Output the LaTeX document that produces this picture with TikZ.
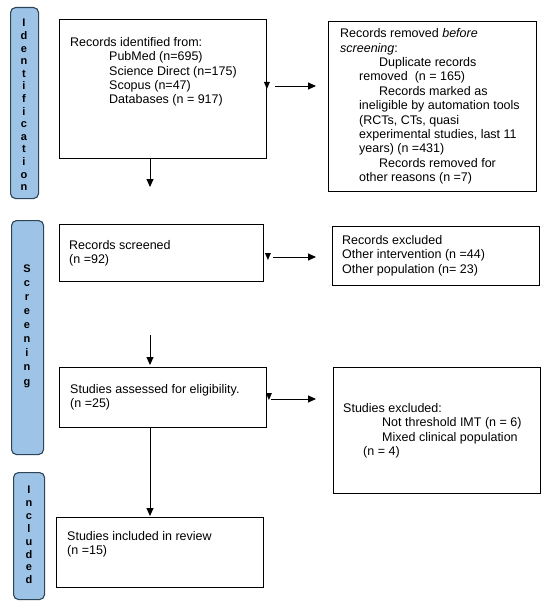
\documentclass[tikz,border=0pt]{standalone}
\usepackage{fontspec}
\setmainfont{Liberation Sans}
\usetikzlibrary{arrows.meta,calc}
\definecolor{sidefill}{HTML}{9DC3E6}
\definecolor{sideedge}{HTML}{2E4457}
\newcommand\downtri[1]{\fill (#1) +(-3,-4) -- +(3,-4) -- +(0,3) -- cycle;}
\begin{document}
\begin{tikzpicture}[x=1pt,y=-1pt,
  box/.style={draw=black,line width=0.9pt,fill=white,anchor=north west,inner sep=0pt},
  side/.style={draw=sideedge,line width=1.1pt,fill=sidefill,rounded corners=5pt,anchor=north west,inner sep=0pt},
  txt/.style={anchor=north west,align=left,inner sep=0pt,font=\fontsize{12.5}{14.4}\selectfont},
  lett/.style={align=center,inner sep=0pt,font=\bfseries\fontsize{11}{#1}\selectfont},
  arr/.style={line width=0.9pt,-{Triangle[length=8pt,width=7pt]}}]
\useasboundingbox (0,0) rectangle (550,607);
\fill[white] (0,0) rectangle (550,607);
% side labels
\node[side,minimum width=28pt,minimum height=191pt] (s1) at (10,7) {};
\node[lett=12.6pt] (l1) at (24,105) {I\\d\\e\\n\\t\\i\\f\\i\\c\\a\\t\\i\\o\\n};
\node[side,minimum width=32pt,minimum height=234pt] (s2) at (11,220) {};
\node[lett=14.1pt] (l2) at (27,326) {S\\c\\r\\e\\e\\n\\i\\n\\g};
\node[side,minimum width=31pt,minimum height=127pt] (s3) at (13,472) {};
\node[lett=12.9pt] (l3) at (29,535) {I\\n\\c\\l\\u\\d\\e\\d};
% boxes
\node[box,minimum width=207pt,minimum height=139pt] (b1) at (59,19) {};
\node[txt] (t1) at (70,37) {Records identified from:\\
\hspace*{39pt}PubMed (n=695)\\
\hspace*{39pt}Science Direct (n=175)\\
\hspace*{39pt}Scopus (n=47)\\
\hspace*{39pt}Databases (n = 917)};
\node[box,minimum width=208pt,minimum height=170pt] (b2) at (328,21) {};
\node[txt] (t2) at (340,28.5) {Records removed \textit{before}\\
\textit{screening}:\\
\hspace*{39pt}Duplicate records\\
\hspace*{19pt}removed\ \ (n = 165)\\
\hspace*{39pt}Records marked as\\
\hspace*{19pt}ineligible by automation tools\\
\hspace*{19pt}(RCTs, CTs, quasi\\
\hspace*{19pt}experimental studies, last 11\\
\hspace*{19pt}years) (n =431)\\
\hspace*{39pt}Records removed for\\
\hspace*{19pt}other reasons (n =7)};
\node[box,minimum width=204pt,minimum height=57pt] (b3) at (59,224) {};
\node[txt] (t3) at (69,240) {Records screened\\(n =92)};
\node[box,minimum width=207pt,minimum height=59pt] (b4) at (332,226) {};
\node[txt] (t4) at (342,235) {Records excluded\\Other intervention (n =44)\\Other population (n= 23)};
\node[box,minimum width=207pt,minimum height=60pt] (b5) at (59,367) {};
\node[txt] (t5) at (70,384) {Studies assessed for eligibility.\\(n =25)};
\node[box,minimum width=207pt,minimum height=126pt] (b6) at (333,367) {};
\node[txt] (t6) at (343,403) {Studies excluded:\\
\hspace*{39pt}Not threshold IMT (n = 6)\\
\hspace*{39pt}Mixed clinical population\\
\hspace*{20pt}(n = 4)};
\node[box,minimum width=207pt,minimum height=70pt] (b7) at (56,517) {};
\node[txt] (t7) at (67,531) {Studies included in review\\(n =15)};
% down arrows
\coordinate (d1) at (150,187);
\draw[arr] (d1 |- b1.south) -- (d1);
\coordinate (d2s) at (150,335);
\coordinate (d2e) at (150,365);
\draw[arr] (d2s) -- (d2e);
\coordinate (d3) at (150,516);
\draw[arr] (d3 |- b5.south) -- (d3);
% right arrows
\coordinate (r1s) at (275,86);
\coordinate (r1e) at (316,86);
\downtri{b1.east |- r1s}
\draw[arr] (r1s) -- (r1e);
\coordinate (r2s) at (273,257);
\coordinate (r2e) at (316,257);
\downtri{$(b3.east |- r2s)+(4,0)$}
\draw[arr] (r2s) -- (r2e);
\coordinate (r3s) at (271,399);
\coordinate (r3e) at (316,399);
\downtri{$(b5.east |- r3s)+(2,-2)$}
\draw[arr] (r3s) -- (r3e);
\end{tikzpicture}
\end{document}
